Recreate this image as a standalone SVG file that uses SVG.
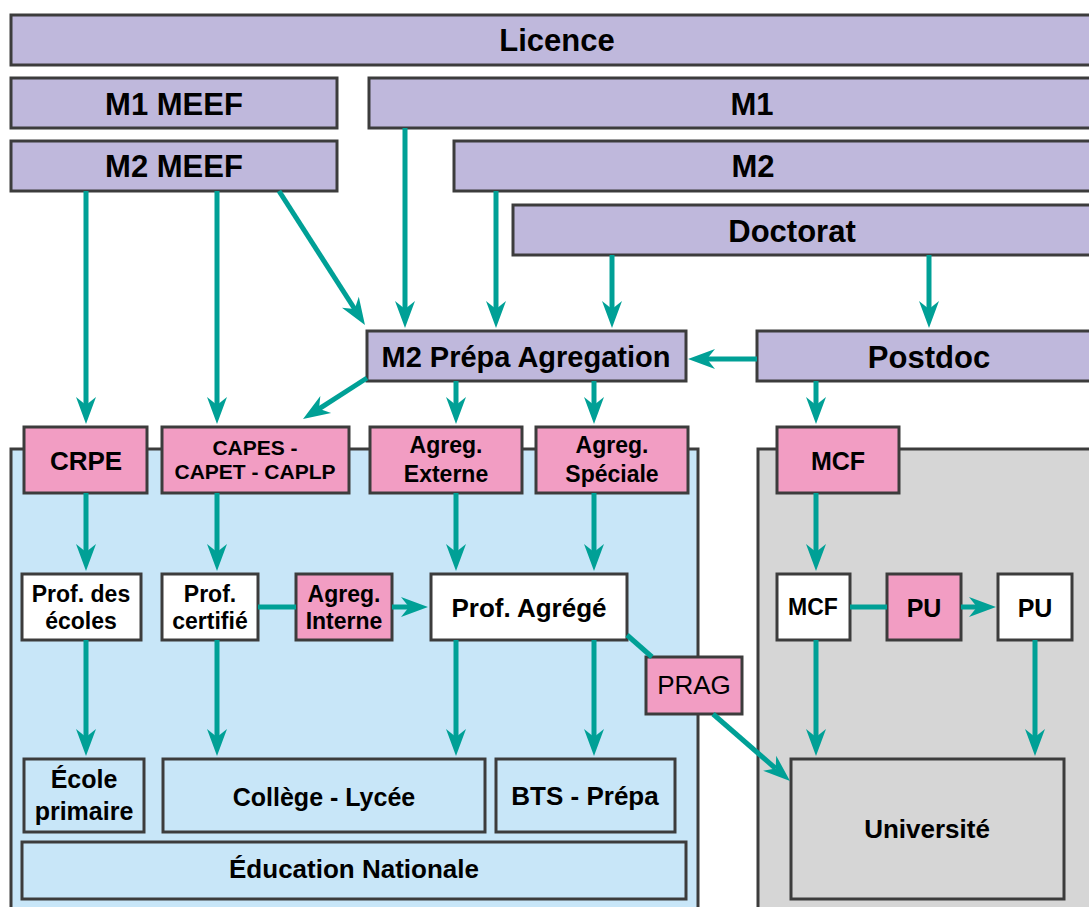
<svg xmlns="http://www.w3.org/2000/svg" width="1089" height="907" viewBox="0 0 1089 907">
<defs>
<style>
.box{stroke:#3c3c3c;stroke-width:3}
.pur{fill:#bfb8dc}
.pnk{fill:#f29dc3}
.wht{fill:#ffffff}
.blu{fill:#c8e6f8}
.gry{fill:#d6d6d6}
text{font-family:"Liberation Sans",Arial,sans-serif;font-weight:bold;fill:#000;text-anchor:middle}
.reg{font-weight:normal}
.c{stroke:#00a096;stroke-width:5;fill:none}
.a{marker-end:url(#ah)}
</style>
<marker id="ah" markerUnits="userSpaceOnUse" markerWidth="30" markerHeight="24" viewBox="-9 -12 30 24" refX="0" refY="0" orient="auto">
<path d="M19,0 L-8,-10 L0,0 L-8,10 Z" fill="#00a096"/>
</marker>
</defs>
<rect width="1089" height="907" fill="#ffffff"/>

<g id="panel-edu"><rect class="box blu" x="11" y="449" width="687" height="470"/></g>
<g id="panel-univ"><rect class="box gry" x="758" y="449" width="340" height="470"/></g>

<g id="licence"><rect class="box pur" x="11" y="15" width="1090" height="50"/><text x="557" y="51" font-size="31">Licence</text></g>
<g id="m1meef"><rect class="box pur" x="11" y="78" width="326" height="50"/><text x="174" y="115" font-size="31">M1 MEEF</text></g>
<g id="m2meef"><rect class="box pur" x="11" y="141" width="326" height="50"/><text x="174" y="177" font-size="31">M2 MEEF</text></g>
<g id="m1"><rect class="box pur" x="369" y="78" width="730" height="50"/><text x="752" y="115" font-size="31">M1</text></g>
<g id="m2"><rect class="box pur" x="454" y="141" width="645" height="50"/><text x="753" y="177" font-size="31">M2</text></g>
<g id="doctorat"><rect class="box pur" x="513" y="205" width="586" height="50"/><text x="792" y="242" font-size="31">Doctorat</text></g>
<g id="m2prepa"><rect class="box pur" x="367" y="331" width="319" height="50"/><text x="526" y="367" font-size="29">M2 Prépa Agregation</text></g>
<g id="postdoc"><rect class="box pur" x="757" y="331" width="342" height="50"/><text x="929" y="368" font-size="31">Postdoc</text></g>

<g id="crpe"><rect class="box pnk" x="24" y="427" width="123" height="66"/><text x="86" y="470" font-size="26">CRPE</text></g>
<g id="capes"><rect class="box pnk" x="162" y="427" width="187" height="66"/><text x="255" y="455" font-size="21">CAPES -</text><text x="255" y="479" font-size="21">CAPET - CAPLP</text></g>
<g id="agreg-externe"><rect class="box pnk" x="370" y="427" width="152" height="66"/><text x="446" y="453" font-size="23">Agreg.</text><text x="446" y="482" font-size="23">Externe</text></g>
<g id="agreg-speciale"><rect class="box pnk" x="536" y="427" width="152" height="66"/><text x="612" y="453" font-size="23">Agreg.</text><text x="612" y="482" font-size="23">Spéciale</text></g>
<g id="mcf-concours"><rect class="box pnk" x="777" y="427" width="122" height="66"/><text x="838" y="470" font-size="25">MCF</text></g>

<g id="prof-ecoles"><rect class="box wht" x="22" y="574" width="119" height="66"/><text x="81" y="602" font-size="23">Prof. des</text><text x="81" y="629" font-size="23">écoles</text></g>
<g id="prof-certifie"><rect class="box wht" x="162" y="574" width="96" height="66"/><text x="210" y="602" font-size="23">Prof.</text><text x="210" y="629" font-size="23">certifié</text></g>
<g id="agreg-interne"><rect class="box pnk" x="296" y="574" width="96" height="66"/><text x="344" y="602" font-size="23">Agreg.</text><text x="344" y="629" font-size="23">Interne</text></g>
<g id="prof-agrege"><rect class="box wht" x="431" y="574" width="196" height="66"/><text x="529" y="617" font-size="26">Prof. Agrégé</text></g>
<g id="prag"><rect class="box pnk" x="646" y="657" width="96" height="57"/><text class="reg" x="694" y="694" font-size="26">PRAG</text></g>
<g id="mcf"><rect class="box wht" x="777" y="574" width="73" height="66"/><text x="813" y="615" font-size="23">MCF</text></g>
<g id="pu-concours"><rect class="box pnk" x="887" y="574" width="74" height="66"/><text x="924" y="617" font-size="25">PU</text></g>
<g id="pu"><rect class="box wht" x="998" y="574" width="74" height="66"/><text x="1035" y="617" font-size="25">PU</text></g>

<g id="ecole-primaire"><rect class="box blu" x="24" y="759" width="120" height="73"/><text x="84" y="788" font-size="25">École</text><text x="84" y="820" font-size="25">primaire</text></g>
<g id="college-lycee"><rect class="box blu" x="163" y="759" width="322" height="73"/><text x="324" y="806" font-size="25">Collège - Lycée</text></g>
<g id="bts-prepa"><rect class="box blu" x="496" y="759" width="179" height="73"/><text x="585" y="805" font-size="26">BTS - Prépa</text></g>
<g id="education-nationale"><rect class="box blu" x="22" y="842" width="664" height="57"/><text x="354" y="878" font-size="26">Éducation Nationale</text></g>
<g id="universite"><rect class="box gry" x="791" y="759" width="273" height="140"/><text x="927" y="838" font-size="26">Université</text></g>

<g id="connectors">
<line class="c a" x1="86" y1="191" x2="86" y2="405"/>
<line class="c a" x1="217" y1="191" x2="217" y2="405"/>
<line class="c a" x1="279" y1="191" x2="354.7" y2="309"/>
<line class="c a" x1="405" y1="128" x2="405" y2="309"/>
<line class="c a" x1="496" y1="191" x2="496" y2="309"/>
<line class="c a" x1="612" y1="255" x2="612" y2="309"/>
<line class="c a" x1="929" y1="255" x2="929" y2="309"/>
<line class="c a" x1="757" y1="359" x2="707" y2="359"/>
<line class="c a" x1="367" y1="378" x2="319" y2="408.8"/>
<line class="c a" x1="456" y1="381" x2="456" y2="405"/>
<line class="c a" x1="594" y1="381" x2="594" y2="405"/>
<line class="c a" x1="816" y1="381" x2="816" y2="405"/>
<line class="c a" x1="86" y1="493" x2="86" y2="552"/>
<line class="c a" x1="217" y1="493" x2="217" y2="552"/>
<line class="c a" x1="456" y1="493" x2="456" y2="552"/>
<line class="c a" x1="594" y1="493" x2="594" y2="552"/>
<line class="c a" x1="816" y1="493" x2="816" y2="552"/>
<line class="c a" x1="86" y1="640" x2="86" y2="737"/>
<line class="c a" x1="217" y1="640" x2="217" y2="737"/>
<line class="c a" x1="456" y1="640" x2="456" y2="737"/>
<line class="c a" x1="594" y1="640" x2="594" y2="737"/>
<line class="c a" x1="816" y1="640" x2="816" y2="737"/>
<line class="c a" x1="1035" y1="640" x2="1035" y2="737"/>
<line class="c" x1="258" y1="607" x2="296" y2="607"/>
<line class="c a" x1="392" y1="607" x2="409" y2="607"/>
<line class="c" x1="850" y1="607" x2="887" y2="607"/>
<line class="c a" x1="961" y1="607" x2="977" y2="607"/>
<line class="c" x1="627" y1="635" x2="652" y2="657"/>
<line class="c a" x1="713" y1="714" x2="775.7" y2="768.5"/>
</g>
</svg>
